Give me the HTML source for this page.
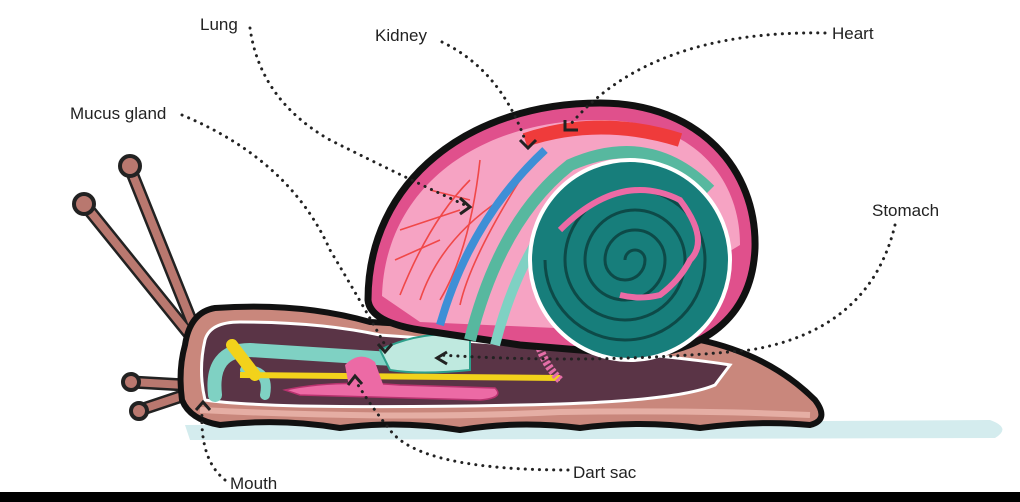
<!DOCTYPE html>
<html><head><meta charset="utf-8"><style>
html,body{margin:0;padding:0;background:#fff;}
svg{display:block}
text{font-family:"Liberation Sans",sans-serif;font-size:17px;fill:#222}
</style></head><body>
<svg width="1020" height="502" viewBox="0 0 1020 502" xmlns="http://www.w3.org/2000/svg">
<rect width="1020" height="502" fill="#fff"/>
<path d="M185 425 L990 420 Q1012 428 995 438 L190 440 Z" fill="#d4ecee"/>
<g stroke="#222" stroke-width="13" stroke-linecap="round"><line x1="195" y1="330" x2="130" y2="168"/><line x1="190" y1="335" x2="85" y2="205"/><line x1="185" y1="385" x2="132" y2="382"/><line x1="185" y1="395" x2="140" y2="410"/></g>
<g stroke="#b9786f" stroke-width="8" stroke-linecap="round"><line x1="195" y1="330" x2="130" y2="168"/><line x1="190" y1="335" x2="85" y2="205"/><line x1="185" y1="385" x2="132" y2="382"/><line x1="185" y1="395" x2="140" y2="410"/></g>
<g fill="#b9786f" stroke="#222" stroke-width="4"><circle cx="130" cy="166" r="10"/><circle cx="84" cy="204" r="10"/><circle cx="131" cy="382" r="8"/><circle cx="139" cy="411" r="8"/></g>
<path d="M185 345 Q190 312 215 308 Q300 302 370 322 L700 340 Q770 355 815 400 Q830 420 810 425 Q760 420 700 428 Q640 420 580 428 Q520 420 460 430 Q400 420 340 428 Q280 418 220 425 Q190 420 182 400 Q178 370 185 345 Z" fill="#c9877c" stroke="#111" stroke-width="6"/>
<path d="M205 340 Q210 322 240 322 Q320 322 380 335 L620 352 Q700 360 730 365 L715 385 Q680 400 560 404 Q420 408 300 406 Q230 404 205 400 Q198 370 205 340Z" fill="#5a3446" stroke="#fff" stroke-width="3"/>
<path d="M200 410 Q400 420 560 412 Q700 410 810 415" stroke="#e5aea4" stroke-width="6" fill="none"/>
<path d="M215 395 Q210 350 250 350 L440 362" stroke="#7fd1c3" stroke-width="14" fill="none" stroke-linecap="round"/>
<path d="M245 370 Q270 370 265 395" stroke="#7fd1c3" stroke-width="10" fill="none" stroke-linecap="round"/>
<path d="M240 375 L560 378" stroke="#f2d21b" stroke-width="6" fill="none"/>
<path d="M232 345 L255 375" stroke="#f2d21b" stroke-width="12" stroke-linecap="round"/>
<path d="M285 390 Q330 380 400 385 L495 388 Q505 398 480 400 L300 395 Z" fill="#ec6aa5" stroke="#b8336f" stroke-width="1.5"/>
<path d="M345 365 Q360 350 375 362 L385 390 L350 392 Z" fill="#ec6aa5"/>
<path d="M380 350 Q420 330 470 335 L470 370 Q420 375 390 370 Z" fill="#bfe9df" stroke="#2e9f8b" stroke-width="2"/>
<path d="M560 380 Q520 340 540 260" stroke="#e56ea8" stroke-width="8" fill="none" stroke-dasharray="3 2"/>
<path d="M368 300 C368 180 470 103 600 103 C700 103 757 170 755 248 C752 320 700 352 640 355 L520 345 L420 330 Q370 322 368 300 Z" fill="#e0508c" stroke="#111" stroke-width="7"/>
<path d="M382 296 C385 190 475 120 600 120 C690 120 740 175 740 245 L600 330 L420 322 Z" fill="#f6a3c3"/>
<g stroke="#f04848" stroke-width="1.6" fill="none">
<path d="M400 295 Q430 220 470 180"/><path d="M420 300 Q440 240 500 200"/><path d="M440 300 Q470 250 480 160"/><path d="M460 305 Q470 260 520 180"/><path d="M395 260 L440 240"/><path d="M400 230 L460 210"/><path d="M430 190 L470 200"/></g>
<path d="M525 140 Q600 115 680 140" stroke="#ef3b3b" stroke-width="14" fill="none"/>
<path d="M440 325 Q470 220 545 150" stroke="#3e8fd6" stroke-width="8" fill="none"/>
<path d="M470 340 Q500 220 570 165 Q650 130 710 190" stroke="#57b89f" stroke-width="12" fill="none"/>
<path d="M495 345 Q525 230 590 180 Q670 150 720 225" stroke="#7fd1c3" stroke-width="10" fill="none"/>
<circle cx="630" cy="260" r="100" fill="#177e7b" stroke="#fff" stroke-width="4"/>
<path d="M625 260 A10 10 0 0 1 645 260 A20 20 0 0 1 605 260 A30 30 0 0 1 665 260 A40 40 0 0 1 585 260 A50 50 0 0 1 685 260 A60 60 0 0 1 565 260 A70 70 0 0 1 705 260 A80 80 0 0 1 545 260" stroke="#0d4a48" stroke-width="3" fill="none"/>
<path d="M560 230 Q620 170 680 200 Q710 240 690 260 Q680 280 660 295 Q640 300 620 295" stroke="#ec6aa5" stroke-width="6" fill="none"/>
<g stroke="#222" stroke-width="3" stroke-dasharray="0.1 7" stroke-linecap="round" fill="none">
<path d="M250 28 Q260 100 330 140 Q410 180 465 205"/>
<path d="M442 42 Q500 70 525 140"/>
<path d="M825 33 Q650 30 570 125"/>
<path d="M182 115 Q290 160 330 250 Q360 300 385 345"/>
<path d="M895 225 Q870 330 750 350 Q600 365 440 355"/>
<path d="M225 480 Q200 460 202 412"/>
<path d="M568 470 Q420 470 390 430 Q370 405 355 380"/>
</g>
<g stroke="#222" stroke-width="3" fill="none">
<path d="M460 198 L470 207 L460 214"/><path d="M520 140 L528 148 L536 140"/><path d="M565 120 L565 130 L578 130"/>
<path d="M378 344 L385 352 L392 344"/><path d="M447 352 L437 358 L447 364"/><path d="M196 410 L203 402 L210 410"/><path d="M348 385 L355 376 L362 384"/>
</g>
<text x="200" y="30">Lung</text>
<text x="375" y="41">Kidney</text>
<text x="832" y="39">Heart</text>
<text x="70" y="119">Mucus gland</text>
<text x="872" y="216">Stomach</text>
<text x="230" y="489">Mouth</text>
<text x="573" y="478">Dart sac</text>
<rect x="0" y="492" width="1020" height="10" fill="#000"/>
</svg>
</body></html>
